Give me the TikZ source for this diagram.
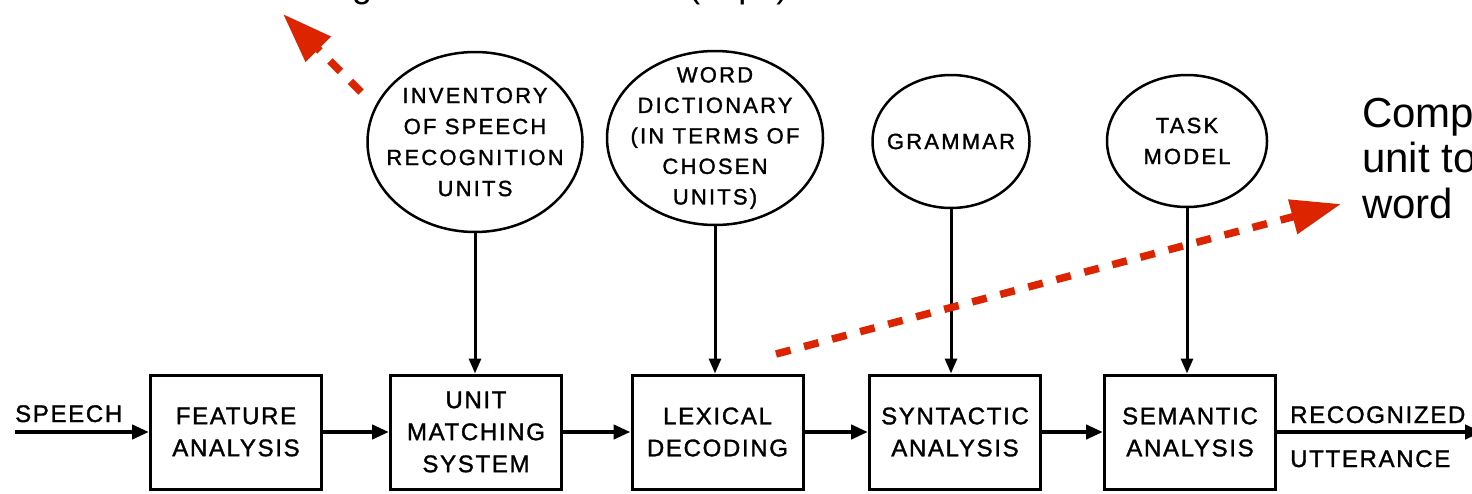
\documentclass[tikz,border=0pt]{standalone}
\usepackage{fontspec}
\setmainfont{Liberation Sans}
\newfontfamily\letterfont{Liberation Sans}[LetterSpace=7, FakeBold=1.4]
\newfontfamily\sourceletters{Liberation Sans}[LetterSpace=10, FakeBold=1.4]
\usetikzlibrary{arrows.meta,shapes.geometric}
\definecolor{notered}{RGB}{221,36,0}
\newcommand\stagefont{\letterfont\fontsize{24}{32}\selectfont}
\newcommand\sourcefont{\sourceletters\fontsize{22}{31}\selectfont}
\newcommand\notefont{\fontsize{42}{45.5}\selectfont}

\begin{document}
\begin{tikzpicture}[x=1pt,y=-1pt,
  stage/.style={draw, line width=3pt, minimum width=171pt, minimum height=114pt,
    inner sep=0pt, align=center, font=\stagefont},
  source/.style={draw, ellipse, line width=2.5pt, inner sep=-24pt, align=center,
    font=\sourcefont},
  flow/.style={line width=4.5pt, -{Triangle[length=17pt,width=14pt]}},
  feed/.style={line width=3pt, -{Triangle[length=15pt,width=12pt]}},
  note/.style={draw=notered, line width=7.5pt, dash pattern=on 15pt off 14pt,
    -{Triangle[length=50pt,width=34pt]}},
  tag/.style={inner sep=0pt, font=\stagefont}]

\useasboundingbox (0,0) rectangle (1472,493);
\fill[white] (0,0) rectangle (1472,493);
\clip (0,0) rectangle (1472,493);

% annotation texts (partly beyond the page edge)
\node[anchor=base west, inner sep=0pt, font=\fontsize{36}{40}\selectfont]
  (topnote) at (258,-3) {Coding bit rate of the units (kbps)};
\node[anchor=base west, inner sep=0pt, align=left, font=\notefont]
  (rightnote) at (1362,218) {Comp\\unit to\\word};

% processing stages
\node[stage] (fa) at (236,432) {FEATURE\\ANALYSIS};
\node[stage] (um) at (476,432) {UNIT\\MATCHING\\SYSTEM};
\node[stage] (ld) at (717.5,432) {LEXICAL\\DECODING};
\node[stage] (sa) at (955,432) {SYNTACTIC\\ANALYSIS};
\node[stage] (se) at (1190,432) {SEMANTIC\\ANALYSIS};

% knowledge sources
\node[source, minimum width=215pt, minimum height=180pt] (inv) at (475,142)
  {INVENTORY\\OF SPEECH\\RECOGNITION\\UNITS};
\node[source, minimum width=216pt, minimum height=174pt,
  font=\sourceletters\fontsize{22}{30.5}\selectfont] (wd) at (715,138)
  {WORD\\DICTIONARY\\(IN TERMS OF\\CHOSEN\\UNITS)};
\node[source, minimum width=157pt, minimum height=133pt] (gr) at (951,141.5) {GRAMMAR};
\node[source, minimum width=160pt, minimum height=132pt] (tm) at (1187,141) {TASK\\MODEL};

% input and output
\coordinate (in) at (15,432);
\coordinate (out) at (1482,432);
\node[tag, anchor=base west] (speech) at (15,422) {SPEECH};
\node[tag, anchor=base west] (recog) at (1290,423) {RECOGNIZED};
\node[tag, anchor=base west] (utter) at (1290,467) {UTTERANCE};

% main flow
\draw[flow] (in) -- (fa);
\draw[flow] (fa) -- (um);
\draw[flow] (um) -- (ld);
\draw[flow] (ld) -- (sa);
\draw[flow] (sa) -- (se);
\draw[flow] (se) -- (out);

% knowledge feeds
\draw[feed] (inv.south) -- (inv.south |- um.north);
\draw[feed] (wd.south) -- (wd.south |- ld.north);
\draw[feed] (gr.south) -- (gr.south |- sa.north);
\draw[feed] (tm.south) -- (tm.south |- se.north);

% annotation arrows
\coordinate (n1s) at (361,92);
\coordinate (n1e) at (283,14);
\coordinate (n2s) at (776,354);
\coordinate (n2e) at (1341,204);
\draw[note] (n1s) -- (n1e);
\draw[note] (n2s) -- (n2e);
\end{tikzpicture}
\end{document}
